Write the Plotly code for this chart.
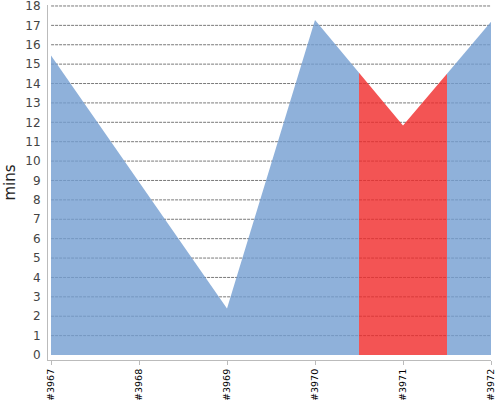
import numpy as np
import plotly.graph_objects as go

builds = ["#3967", "#3968", "#3969", "#3970", "#3971", "#3972"]
minutes = [15.45, 8.9, 2.4, 17.28, 11.83, 17.18]
highlight_index = 4  # #3971 shown in red
y_ticks = list(range(0, 19))

blue = "rgba(115,157,209,0.8)"
red = "rgba(240,41,41,0.8)"

x = np.arange(len(builds), dtype=float)
lo, hi = highlight_index - 0.5, highlight_index + 0.5


def segment(a, b):
    xs = np.concatenate([[a], x[(x > a) & (x < b)], [b]])
    return xs, np.interp(xs, x, minutes)


fig = go.Figure()
for (a, b), col in [((x[0], lo), blue), ((lo, hi), red), ((hi, x[-1]), blue)]:
    xs, ys = segment(a, b)
    fig.add_trace(go.Scatter(x=xs, y=ys, mode="lines", fill="tozeroy",
                             line=dict(width=0, color=col), fillcolor=col,
                             hoverinfo="skip", showlegend=False))

for v in y_ticks:
    if v == 0:
        continue
    fig.add_shape(type="line", xref="paper", x0=0.007, x1=1, yref="y", y0=v, y1=v,
                  line=dict(color="#7a7a7a", width=1, dash="3px,1px"),
                  layer="below")

fig.update_layout(
    width=500, height=400,
    margin=dict(l=48, r=9, t=5, b=40),
    paper_bgcolor="white", plot_bgcolor="white",
    font=dict(family="DejaVu Sans", color="#444"),
    xaxis=dict(range=[-3 / 88, len(builds) - 1], tickvals=x, ticktext=builds,
               tickangle=-90, tickfont=dict(size=9.5, color="#000"),
               showgrid=False, zeroline=False, showline=True, linecolor="#bbb",
               linewidth=1, ticks="outside", ticklen=4, tickcolor="#bbb",
               automargin=False, ticklabeloverflow="allow"),
    yaxis=dict(range=[-5 / 19.39, 18.05], tickvals=y_ticks, tickfont=dict(size=12, color="#444"),
               showgrid=False, zeroline=False, showline=True, linecolor="#bbb",
               linewidth=1, ticks="", ticklabelstandoff=4, automargin=False,
               ticklabeloverflow="allow",
               title=dict(text="mins", font=dict(size=15, color="#222"), standoff=6)),
)

fig.write_html("out.html", config={"displayModeBar": False},
               post_script="document.body.style.margin='0px';")
